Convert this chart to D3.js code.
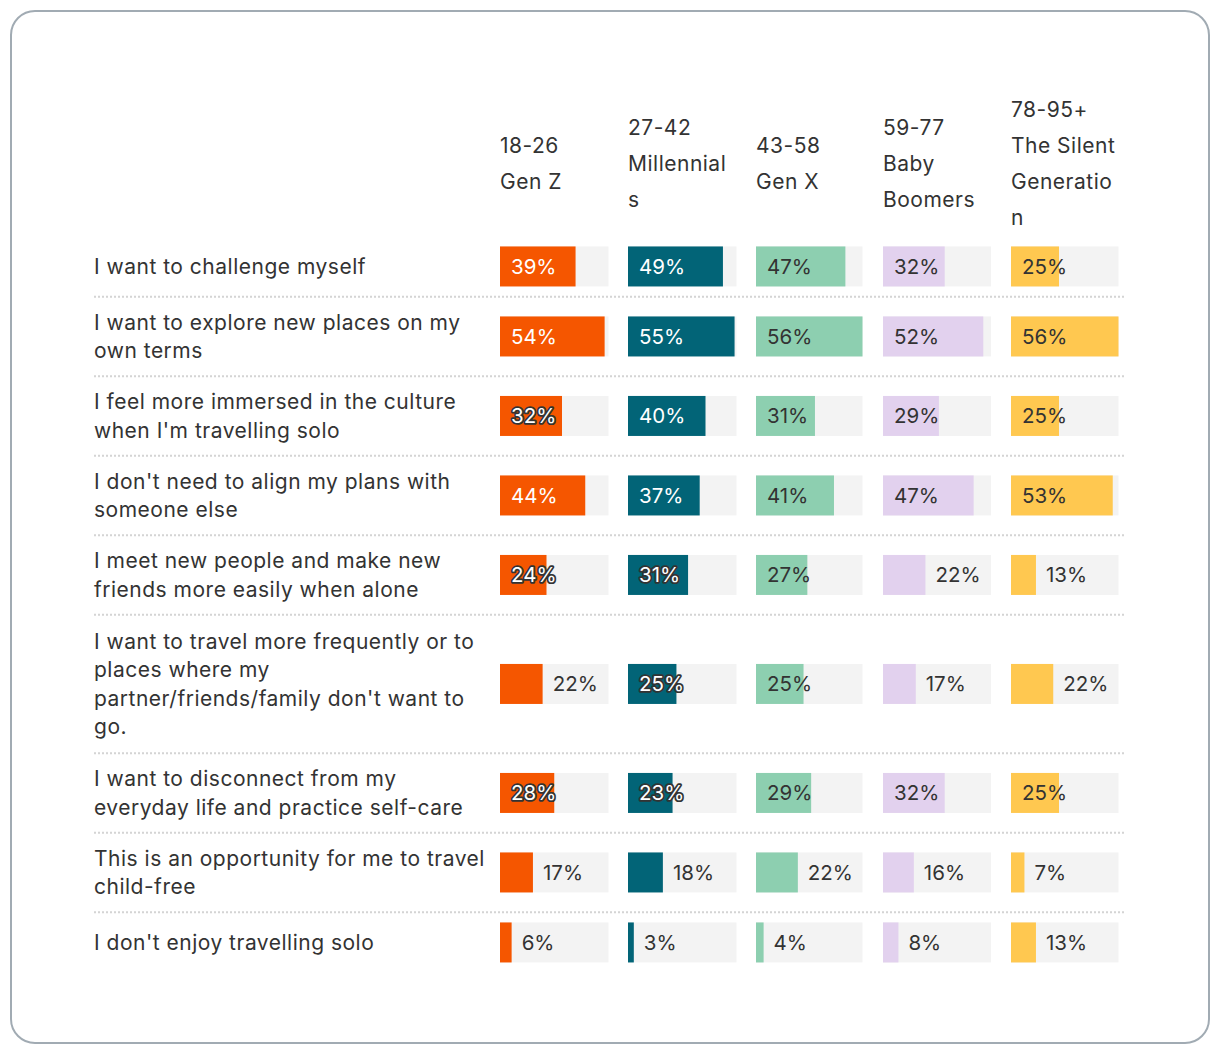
<!DOCTYPE html>
<html><head><meta charset="utf-8">
<script src="https://cdn.jsdelivr.net/npm/d3@7"></script>
<style>body{margin:0;background:#fff}svg{display:block}</style>
</head><body>
<svg id="chart" width="1220" height="1056"></svg>
<script>
// ---- data ----
const headers = [
  ["18-26","Gen Z"],
  ["27-42","Millennial","s"],
  ["43-58","Gen X"],
  ["59-77","Baby","Boomers"],
  ["78-95+","The Silent","Generatio","n"]
];
const categories = [
  ["I want to challenge myself"],
  ["I want to explore new places on my","own terms"],
  ["I feel more immersed in the culture","when I'm travelling solo"],
  ["I don't need to align my plans with","someone else"],
  ["I meet new people and make new","friends more easily when alone"],
  ["I want to travel more frequently or to","places where my","partner/friends/family don't want to","go."],
  ["I want to disconnect from my","everyday life and practice self-care"],
  ["This is an opportunity for me to travel","child-free"],
  ["I don't enjoy travelling solo"]
];
const genZ        = [39,54,32,44,24,22,28,17,6];
const millennials = [49,55,40,37,31,25,23,18,3];
const genX        = [47,56,31,41,27,25,29,22,4];
const boomers     = [32,52,29,47,22,17,32,16,8];
const silent      = [25,56,25,53,13,22,25,7,13];
const series = [genZ, millennials, genX, boomers, silent];

// ---- style ----
const colors = ["#f55600","#026477","#8dcfb0","#e2d1ee","#ffc850"];
const darkCol = [true,true,false,false,false];
const colX = [500,628,756,883,1011];
const colW = [108.5,108.5,106.5,108,107.5];
const font = "Inter, 'Noto Sans', sans-serif";

const svg = d3.select("#chart");
svg.append("rect").attr("x",11).attr("y",11).attr("width",1198).attr("height",1032)
  .attr("rx",24).attr("fill","#fff").attr("stroke","#a1abb3").attr("stroke-width",2);

const maxV = d3.max(series.flat());
const xs = colW.map(w => d3.scaleLinear().domain([0,maxV]).range([0,w]));

// headers
const headerCY = 164, hLine = 36;
headers.forEach((lines,i)=>{
  const t = svg.append("text").attr("font-family",font).attr("font-size",21)
    .attr("letter-spacing",0.5).attr("fill","#333");
  const y0 = headerCY - (lines.length-1)*hLine/2;
  lines.forEach((l,j)=>{
    t.append("tspan").attr("x",colX[i]).attr("y",y0+j*hLine).attr("dy","0.35em").text(l);
  });
});

// rows
const lineH = 28.4;
let y = 236.2;
categories.forEach((lines,r)=>{
  const h = Math.max(40, lines.length*29.5) + 20.5;
  const cy = y + h/2;
  const t = svg.append("text").attr("font-family",font).attr("font-size",21)
    .attr("letter-spacing",0.5).attr("fill","#333");
  const ty0 = cy - (lines.length-1)*lineH/2;
  lines.forEach((l,j)=>{
    t.append("tspan").attr("x",94).attr("y",ty0+j*lineH).attr("dy","0.35em").text(l);
  });
  series.forEach((s,c)=>{
    const v = s[r];
    const g = svg.append("g");
    g.append("rect").attr("x",colX[c]).attr("y",cy-20).attr("width",colW[c]).attr("height",40).attr("fill","#f3f3f3");
    g.append("rect").attr("x",colX[c]).attr("y",cy-20).attr("width",xs[c](v)).attr("height",40).attr("fill",colors[c]);
    const inside = v >= 23;
    const lbl = g.append("text").attr("font-family",font).attr("font-size",20.5)
      .attr("y",cy).attr("dy","0.36em").text(v+"%");
    if(inside){
      lbl.attr("x",colX[c]+11).attr("fill",darkCol[c]?"#fff":"#333");
      if(darkCol[c] && v<=32){
        lbl.attr("stroke","#333").attr("stroke-width",3.5).attr("stroke-linejoin","round").attr("paint-order","stroke");
      }
    } else {
      lbl.attr("x",colX[c]+xs[c](v)+10).attr("fill","#333");
    }
  });
  y += h;
  if(r < categories.length-1){
    svg.append("line").attr("x1",94).attr("x2",1126).attr("y1",y).attr("y2",y)
      .attr("stroke","#d4d4d4").attr("stroke-width",2).attr("stroke-dasharray","2,2");
  }
});
</script>
</body></html>
